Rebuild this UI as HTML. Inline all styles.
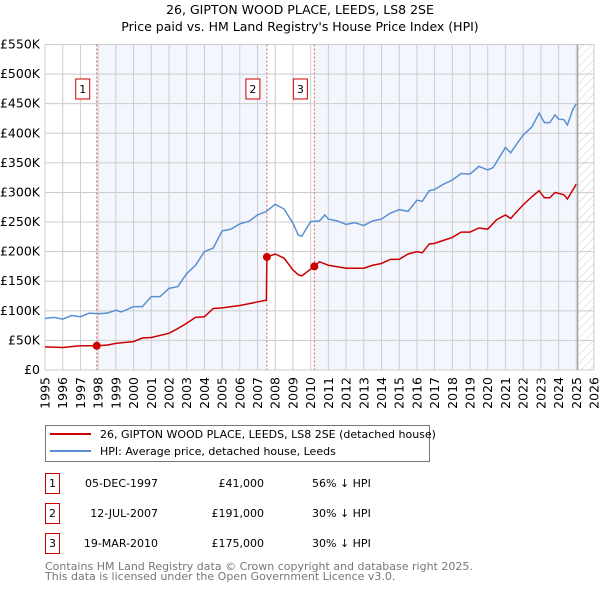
<!DOCTYPE html>
<html><head><meta charset="utf-8"><style>
body{margin:0;background:#fff;font-family:"DejaVu Sans","Liberation Sans",sans-serif;}
svg text{font-family:"DejaVu Sans","Liberation Sans",sans-serif;}
</style></head><body>
<svg id="chart" width="600" height="590" viewBox="0 0 600 590" xmlns="http://www.w3.org/2000/svg">
<defs><pattern id="hatch" width="6" height="6" patternUnits="userSpaceOnUse" patternTransform="rotate(45)"><line x1="0" y1="0" x2="0" y2="6" stroke="#ccc" stroke-width="1"/></pattern></defs>
<text x="300" y="14" text-anchor="middle" font-size="12.5" fill="#000">26, GIPTON WOOD PLACE, LEEDS, LS8 2SE</text>
<text x="300" y="31" text-anchor="middle" font-size="12.5" fill="#000">Price paid vs. HM Land Registry's House Price Index (HPI)</text>
<g id="plot"></g>
<g>
<rect x="45.5" y="425.5" width="384" height="36" fill="#fff" stroke="#777"/>
<line x1="50" y1="434" x2="91" y2="434" stroke="#cc0000" stroke-width="2"/>
<text x="100" y="438" font-size="11">26, GIPTON WOOD PLACE, LEEDS, LS8 2SE (detached house)</text>
<line x1="50" y1="451" x2="91" y2="451" stroke="#5b8fd4" stroke-width="2"/>
<text x="100" y="455" font-size="11">HPI: Average price, detached house, Leeds</text>
</g>
<g id="table" font-size="11"></g>
<text x="45" y="570" font-size="11" fill="#777">Contains HM Land Registry data © Crown copyright and database right 2025.</text>
<text x="45" y="580" font-size="11" fill="#777">This data is licensed under the Open Government Licence v3.0.</text>
</svg>
<script>
const hpiYears=[1995,1995.5,1996,1996.5,1997,1997.5,1998,1998.5,1999,1999.3,2000,2000.5,2001,2001.5,2002,2002.5,2003,2003.5,2004,2004.5,2005,2005.5,2006,2006.5,2007,2007.5,2008,2008.5,2009,2009.3,2009.5,2010,2010.5,2010.8,2011,2011.5,2012,2012.5,2013,2013.5,2014,2014.5,2015,2015.5,2016,2016.3,2016.7,2017,2017.5,2018,2018.5,2019,2019.5,2020,2020.3,2021,2021.3,2021.5,2022,2022.5,2022.9,2023.2,2023.5,2023.8,2024,2024.3,2024.5,2024.8,2025];
const hpiValues=[87,89,86,92,90,96,95,96,101,98,107,107,124,124,138,141,163,177,200,206,235,238,247,251,262,268,280,272,248,228,226,251,252,262,255,252,246,249,244,252,255,265,271,268,287,285,303,305,314,321,332,331,344,338,342,376,367,376,397,411,434,418,418,431,424,423,414,440,450];
const saleYears=[1995,1996,1997,1997.92,1998.5,1999,2000,2000.5,2001,2002,2002.5,2003,2003.5,2004,2004.5,2005,2006,2006.5,2007,2007.5,2007.53,2008,2008.5,2009,2009.3,2009.5,2010.2,2010.5,2011,2012,2013,2013.5,2014,2014.5,2015,2015.5,2016,2016.3,2016.7,2017,2017.5,2018,2018.5,2019,2019.5,2020,2020.5,2021,2021.3,2021.5,2022,2022.5,2022.9,2023.2,2023.5,2023.8,2024.3,2024.5,2024.8,2025];
const saleValues=[39,38,41,41,42,45,48,54,55,62,70,79,89,90,104,105,109,112,115,118,191,196,189,169,161,159,175,183,177,172,172,177,180,187,187,196,200,198,213,214,219,224,233,233,240,238,254,262,256,263,279,293,303,291,291,300,296,289,304,314];
const markerYears=[1997.92,2007.53,2010.21];
const markerValues=[41,191,175];
const markerLabels=["1","2","3"];
const yTicks=[0,50,100,150,200,250,300,350,400,450,500,550];
const yTickLabels=["£0","£50K","£100K","£150K","£200K","£250K","£300K","£350K","£400K","£450K","£500K","£550K"];
const xTicks=[1995,1996,1997,1998,1999,2000,2001,2002,2003,2004,2005,2006,2007,2008,2009,2010,2011,2012,2013,2014,2015,2016,2017,2018,2019,2020,2021,2022,2023,2024,2025,2026];
const tableDates=["05-DEC-1997","12-JUL-2007","19-MAR-2010"];
const tablePrices=["£41,000","£191,000","£175,000"];
const tableDiffs=["56% ↓ HPI","30% ↓ HPI","30% ↓ HPI"];

const X0=45,X1=594,Y0=370,Y1=44.5;
const xs=y=>X0+(y-1995)/(2026-1995)*(X1-X0);
const ys=v=>Y0-v/550*(Y0-Y1);
const NS="http://www.w3.org/2000/svg";
const plot=document.getElementById('plot');
function mk(tag,attrs,parent){const e=document.createElementNS(NS,tag);for(const k in attrs)e.setAttribute(k,attrs[k]);(parent||plot).appendChild(e);return e;}

let r;
r=mk('rect',{x:xs(1997.92),y:Y1,width:xs(2007.53)-xs(1997.92),height:Y0-Y1,fill:'#eef3fc',opacity:0.7});


r=mk('rect',{x:xs(2010.21),y:Y1,width:xs(2025.08)-xs(2010.21),height:Y0-Y1,fill:'#eef3fc',opacity:0.7});


r=mk('rect',{x:xs(2025.08),y:Y1,width:X1-xs(2025.08),height:Y0-Y1,fill:'url(#hatch)'});



yTicks.forEach((t,i)=>{
 const l=mk('line',{x1:X0,x2:X1,y1:ys(t),y2:ys(t),stroke:'#ccc','stroke-width':1});
 
 
 const tx=mk('text',{x:40,y:ys(t)+4,'text-anchor':'end','font-size':12.5});
 tx.textContent=yTickLabels[i];
 
 
});
xTicks.forEach(t=>{
 const l=mk('line',{x1:xs(t),x2:xs(t),y1:Y1,y2:Y0,stroke:'#ccc','stroke-width':1});
 
 
 const px=xs(t)+4.5;
 const tx=mk('text',{x:px,y:377,'text-anchor':'end','font-size':12.5,transform:'rotate(-90 '+px+' 377)'});
 tx.textContent=t;
 
 
});
const vl=mk('line',{x1:xs(2025.08),x2:xs(2025.08),y1:Y1,y2:Y0,stroke:'#999','stroke-width':1.2});



markerYears.forEach((y,i)=>{
 const l=mk('line',{x1:xs(y),x2:xs(y),y1:Y1,y2:Y0,stroke:'#e06060','stroke-width':1,'stroke-dasharray':'2,2'});
 
 
 const b=mk('rect',{x:xs(y)-21,y:79,width:14,height:20,fill:'#fff',stroke:'#cc0000','stroke-width':1});
 
 
 const t=mk('text',{x:xs(y)-14,y:93,'text-anchor':'middle','font-size':11});
 t.textContent=markerLabels[i];
 
 
});

const hp=mk('polyline',{points:hpiYears.map((y,i)=>xs(y)+','+ys(hpiValues[i])).join(' '),fill:'none',stroke:'#5b8fd4','stroke-width':1.5});


const sp=mk('polyline',{points:saleYears.map((y,i)=>xs(y)+','+ys(saleValues[i])).join(' '),fill:'none',stroke:'#cc0000','stroke-width':1.5});


markerYears.forEach((y,i)=>{
 const c=mk('circle',{cx:xs(y),cy:ys(markerValues[i]),r:4,fill:'#cc0000'});
 
 
});

const tb=document.getElementById('table');
const rowY=[487,517,547];
tableDates.forEach((d,i)=>{
 const b=mk('rect',{x:45.5,y:rowY[i]-13.5,width:14,height:20,fill:'#fff',stroke:'#cc0000'},tb);
 
 
 let t=mk('text',{x:52.5,y:rowY[i],'text-anchor':'middle'},tb);t.textContent=markerLabels[i];
 
 
 t=mk('text',{x:158,y:rowY[i],'text-anchor':'end'},tb);t.textContent=d;
 
 
 t=mk('text',{x:264,y:rowY[i],'text-anchor':'end'},tb);t.textContent=tablePrices[i];
 
 
 t=mk('text',{x:312,y:rowY[i]},tb);t.textContent=tableDiffs[i];
 
 
});
</script>
</body></html>
